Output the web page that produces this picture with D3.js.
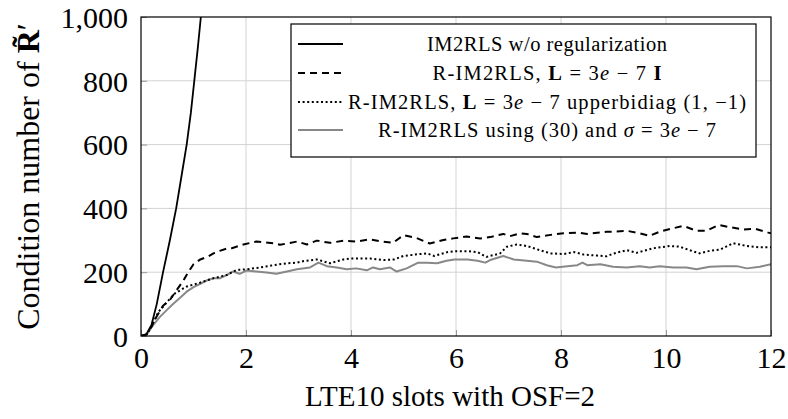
<!DOCTYPE html>
<html><head><meta charset="utf-8">
<script src="https://cdn.jsdelivr.net/npm/d3@7"></script>
<style>body{margin:0;background:#fff}</style>
</head><body><svg id="c" width="788" height="419"></svg>
<script>
const xTicks = [0, 2, 4, 6, 8, 10, 12];
const yTicks = [0, 200, 400, 600, 800, 1000];

const noRegX = [0, 0.1, 0.2, 0.3, 0.42, 0.55, 0.67, 0.77, 0.87, 0.95, 1.015, 1.08, 1.14];
const noRegY = [0, 5, 35, 100, 200, 300, 400, 500, 600, 700, 800, 900, 1000];

const identX = [0,0.11,0.2,0.3,0.42,0.55,0.68,0.8,0.9,1.0,1.13,1.28,1.38,1.5,1.63,1.73,1.95,2.2,2.52,2.65,2.97,3.16,3.35,3.6,3.87,4.1,4.36,4.6,4.8,5.0,5.25,5.5,5.76,5.95,6.2,6.46,6.65,6.9,7.03,7.22,7.35,7.54,7.8,8.05,8.31,8.5,8.69,8.87,8.99,9.25,9.5,9.69,9.88,10.14,10.33,10.58,10.77,11.0,11.22,11.48,11.7,11.95,12];
const identY = [0,6,30,62,95,113,144,172,200,225,240,249,259,267,274,275,287,296,291,286,296,287,299,292,299,296,303,296,292,316,307,290,301,306,312,306,310,320,313,322,320,310,317,322,324,320,324,327,327,330,322,314,327,338,345,330,330,348,341,334,336,324,322];

const bidiagX = [0,0.11,0.2,0.33,0.46,0.65,0.87,1.12,1.38,1.63,1.82,2.01,2.27,2.52,2.78,2.97,3.1,3.35,3.6,3.86,3.99,4.37,4.63,4.82,5.0,5.26,5.45,5.58,5.84,6.0,6.22,6.41,6.58,6.84,6.97,7.16,7.35,7.6,7.8,8.05,8.25,8.44,8.69,8.87,8.99,9.25,9.44,9.75,10.07,10.26,10.45,10.64,10.83,11.03,11.28,11.54,11.79,12];
const bidiagY = [0,5,30,75,100,134,155,167,181,191,207,209,215,222,228,230,235,240,228,240,243,243,238,240,251,256,259,251,263,266,266,263,248,259,280,287,282,269,259,257,263,255,252,250,258,269,261,275,282,280,269,259,267,271,291,282,278,278];

const sigmaX = [0,0.11,0.23,0.36,0.49,0.62,0.75,0.87,1.0,1.12,1.25,1.38,1.5,1.63,1.75,1.88,2.01,2.2,2.39,2.58,2.78,2.97,3.22,3.38,3.54,3.73,3.92,4.1,4.3,4.42,4.55,4.74,4.87,5.06,5.28,5.45,5.64,5.82,5.97,6.22,6.41,6.56,6.65,6.9,7.1,7.35,7.54,7.73,7.9,8.12,8.31,8.41,8.5,8.75,8.99,9.25,9.5,9.69,9.88,10.14,10.39,10.58,10.83,11.09,11.35,11.54,11.79,12];
const sigmaY = [0,5,34,60,81,102,121,139,153,163,174,181,181,191,202,195,205,202,199,195,202,209,215,230,219,215,209,212,206,215,209,215,202,212,230,230,228,236,240,240,236,230,238,251,240,236,233,222,215,219,222,230,222,225,217,215,219,215,219,215,215,209,217,219,219,212,217,225];

const FONT = "'Liberation Serif', 'Times New Roman', Times, serif";
const svg = d3.select("#c");
const L = 141, R = 771, T = 17, B = 336;
const x = d3.scaleLinear().domain([0, 12]).range([L, R]);
const y = d3.scaleLinear().domain([0, 1000]).range([B, T]);

// grid
svg.append("g").selectAll("line").data(xTicks.slice(1, -1)).join("line")
  .attr("x1", d => x(d)).attr("x2", d => x(d)).attr("y1", T).attr("y2", B)
  .attr("stroke", "#d3d3d3").attr("stroke-width", 1);
svg.append("g").selectAll("line").data(yTicks.slice(1, -1)).join("line")
  .attr("y1", d => y(d)).attr("y2", d => y(d)).attr("x1", L).attr("x2", R)
  .attr("stroke", "#d3d3d3").attr("stroke-width", 1);

// axes (inner ticks)
const ax = svg.append("g").attr("transform", `translate(0,${B})`)
  .call(d3.axisBottom(x).tickValues(xTicks).tickSize(-6).tickPadding(0).tickFormat(d3.format("d")));
const ay = svg.append("g").attr("transform", `translate(${L},0)`)
  .call(d3.axisLeft(y).tickValues(yTicks).tickSize(-6).tickPadding(13).tickFormat(d3.format(",")));
[ax, ay].forEach(g => {
  g.attr("font-family", FONT).attr("font-size", 30);
  g.select(".domain").remove();
  g.selectAll(".tick line").attr("stroke", "#999");
  g.selectAll(".tick text").attr("fill", "#000");
});
ax.selectAll(".tick text").attr("dy", 32);
ay.selectAll(".tick text").attr("dy", "0.34em");

// clip
svg.append("clipPath").attr("id", "clip").append("rect")
  .attr("x", L).attr("y", T).attr("width", R - L).attr("height", B - T);

const line = d3.line().x(d => x(d[0])).y(d => y(d[1]));
const series = [
  {xs: noRegX, ys: noRegY, color: "#000", w: 1.8, dash: null},
  {xs: identX, ys: identY, color: "#000", w: 2, dash: "7,5"},
  {xs: bidiagX, ys: bidiagY, color: "#000", w: 2, dash: "2,2.6"},
  {xs: sigmaX, ys: sigmaY, color: "#888", w: 2, dash: null}
];
const gl = svg.append("g").attr("clip-path", "url(#clip)");
series.slice().reverse().forEach(s => {
  gl.append("path").datum(s.xs.map((v, i) => [v, s.ys[i]]))
    .attr("d", line).attr("fill", "none").attr("stroke", s.color)
    .attr("stroke-width", s.w).attr("stroke-dasharray", s.dash)
    .attr("stroke-linejoin", "round");
});

// frame
svg.append("rect").attr("x", L).attr("y", T).attr("width", R - L).attr("height", B - T)
  .attr("fill", "none").attr("stroke", "#000").attr("stroke-width", 1.2);

// axis titles
svg.append("text").attr("x", 450).attr("y", 406).attr("text-anchor", "middle")
  .attr("font-family", FONT).attr("font-size", 29).text("LTE10 slots with OSF=2");
const yt = svg.append("text").attr("transform", `translate(39,${(T + B) / 2}) rotate(-90)`)
  .attr("text-anchor", "middle").attr("font-family", FONT).attr("font-size", 32);
yt.append("tspan").text("Condition number of ");
yt.append("tspan").attr("font-weight", "bold").text("R\u0303");
yt.append("tspan").text("\u2032");

// legend
const lg = svg.append("g");
lg.append("rect").attr("x", 291).attr("y", 24).attr("width", 465).attr("height", 133)
  .attr("fill", "#fff").attr("stroke", "#000").attr("stroke-width", 1.2);
const rows = [44, 73, 102, 130];
const widths = [240, 229, 398, 338];
const cx = 547;
series.forEach((s, i) => {
  lg.append("line").attr("x1", 298).attr("x2", 343).attr("y1", rows[i]).attr("y2", rows[i])
    .attr("stroke", s.color).attr("stroke-width", s.w).attr("stroke-dasharray", s.dash);
});
function legText(i, parts) {
  const t = lg.append("text").attr("x", cx).attr("y", rows[i] + 7).attr("text-anchor", "middle")
    .attr("font-family", FONT).attr("font-size", 20.5)
    .attr("textLength", widths[i]).attr("lengthAdjust", "spacing");
  parts.forEach(p => {
    const ts = t.append("tspan").text(p[0]);
    if (p[1] === "b") ts.attr("font-weight", "bold");
    if (p[1] === "i") ts.attr("font-style", "italic");
  });
}
legText(0, [["IM2RLS w/o regularization"]]);
legText(1, [["R-IM2RLS, "], ["L", "b"], [" = 3"], ["e", "i"], [" \u2212 7 "], ["I", "b"]]);
legText(2, [["R-IM2RLS, "], ["L", "b"], [" = 3"], ["e", "i"], [" \u2212 7 upperbidiag (1, \u22121)"]]);
legText(3, [["R-IM2RLS using (30) and "], ["\u03c3", "i"], [" = 3"], ["e", "i"], [" \u2212 7"]]);
</script></body></html>
